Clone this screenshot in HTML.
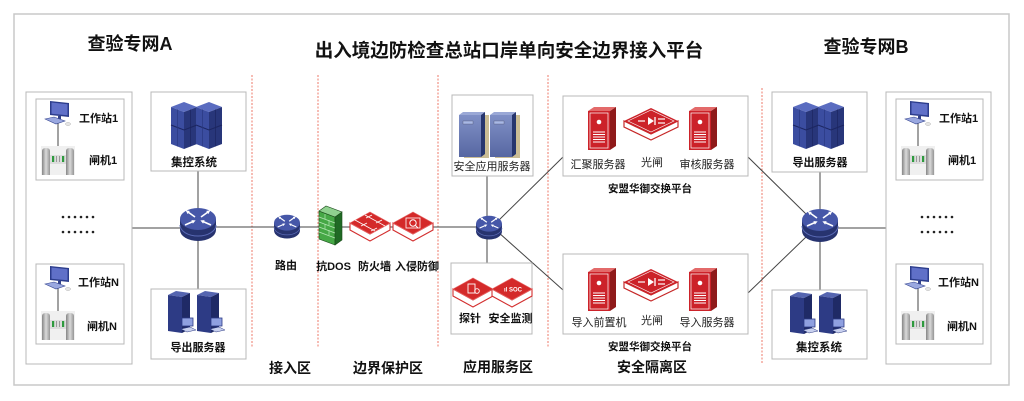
<!DOCTYPE html>
<html><head><meta charset="utf-8"><style>
html,body{margin:0;padding:0;background:#fff;width:1024px;height:401px;overflow:hidden}
svg{display:block}
</style></head><body>
<svg width="1024" height="401" viewBox="0 0 1024 401" xmlns="http://www.w3.org/2000/svg" xmlns:xlink="http://www.w3.org/1999/xlink" font-family="'Liberation Sans','Noto Sans CJK SC',sans-serif">
<defs>
<linearGradient id="post" x1="0" x2="1" y1="0" y2="0"><stop offset="0" stop-color="#858585"/><stop offset="0.5" stop-color="#dadada"/><stop offset="1" stop-color="#959595"/></linearGradient>
<linearGradient id="appf" x1="0" x2="0" y1="0" y2="1"><stop offset="0" stop-color="#8090c6"/><stop offset="1" stop-color="#5767a2"/></linearGradient>
<marker id="ah" viewBox="0 0 4 4" refX="1" refY="2" markerWidth="2.4" markerHeight="2.4" orient="auto"><path d="M0,0 L4,2 L0,4 z" fill="#fff"/></marker>
<g id="pc">
 <polygon points="5,1 24,3 24,17 5,15" fill="#2c3d8c"/>
 <polygon points="6.5,2.5 22.5,4.3 22.5,15.3 6.5,13.8" fill="#6070c8"/>
 <rect x="13" y="16" width="3" height="3" fill="#33428a"/>
 <polygon points="0,19 9,17 20,21 11,24" fill="#9aa8e0" stroke="#34448e" stroke-width="0.6"/>
 <ellipse cx="23" cy="24" rx="2.5" ry="1.4" fill="#e6e6e6" stroke="#999" stroke-width="0.4"/>
</g>
<g id="gate">
 <rect x="0" y="0" width="34" height="29" fill="#f0f0f0"/>
 <rect x="9" y="9" width="16" height="9" fill="#dcdcdc"/>
 <rect x="11" y="10" width="2.2" height="6" fill="#2e9a3e"/>
 <rect x="21" y="10" width="2.2" height="6" fill="#2e9a3e"/>
 <rect x="15" y="10" width="1" height="6" fill="#999"/><rect x="18" y="10" width="1" height="6" fill="#999"/>
 <path d="M1,29 V5 Q1,2 5,2 Q9,2 9,5 V29 Z" fill="url(#post)"/>
 <path d="M25,29 V5 Q25,2 29,2 Q33,2 33,5 V29 Z" fill="url(#post)"/>
</g>
<g id="col">
 <polygon points="0,5 13,0 26,5 13,10" fill="#5a6cc0"/>
 <polygon points="0,5 13,10 13,47 0,42" fill="#3b4da0"/>
 <polygon points="13,10 26,5 26,42 13,47" fill="#28367a"/>
 <polyline points="0,23 13,28 26,23" fill="none" stroke="#1c2660" stroke-width="1"/>
 <line x1="6.5" y1="7.5" x2="6.5" y2="44.5" stroke="#2a3880" stroke-width="0.7"/>
 <line x1="19.5" y1="7.5" x2="19.5" y2="44.5" stroke="#1c2660" stroke-width="0.7"/>
</g>
<g id="rack"><use xlink:href="#col"/><use xlink:href="#col" x="25"/></g>
<g id="tw">
 <polygon points="0,4 8,0 22,2 14,6" fill="#5565b0"/>
 <polygon points="0,4 14,6 14,42 0,40" fill="#2d3b85"/>
 <polygon points="14,6 22,2 22,38 14,42" fill="#1f2a66"/>
 <rect x="14" y="27" width="11" height="8" fill="#8fa0e0" stroke="#2d3b85" stroke-width="0.8"/>
 <polygon points="13,38 22,36 28,39 19,41" fill="#c8d0ee" stroke="#2d3b85" stroke-width="0.5"/>
</g>
<g id="towers"><use xlink:href="#tw"/><use xlink:href="#tw" x="29"/></g>
<g id="sw">
 <path d="M-18,-6 V5 A18,11 0 0 0 18,5 V-6 Z" fill="#27336f"/>
 <path d="M-18,0 A18,11 0 0 0 18,0" fill="none" stroke="#5a6ab5" stroke-width="1"/>
 <ellipse cx="0" cy="-6" rx="18" ry="11" fill="#4657a8"/>
 <g stroke="#fff" stroke-width="1.6">
  <line x1="-3" y1="-8" x2="-10" y2="-13" marker-end="url(#ah)"/>
  <line x1="3" y1="-8" x2="10" y2="-13" marker-end="url(#ah)"/>
  <line x1="-13" y1="0" x2="-5" y2="-3.5" marker-end="url(#ah)"/>
  <line x1="13" y1="0" x2="5" y2="-3.5" marker-end="url(#ah)"/>
 </g>
</g>
<g id="slab">
 <polygon points="-20,0 0,11 20,0 20,7 0,18 -20,7" fill="#fff" stroke="#d32f2f" stroke-width="1.1"/>
 <polygon points="-20,0 0,-11 20,0 0,11" fill="#d42a2a" stroke="#e86a6a" stroke-width="0.6"/>
</g>
<g id="rsv">
 <polygon points="0,4 6,0 28,0 22,4" fill="#e36a6a"/>
 <polygon points="22,4 28,0 28,39 22,43" fill="#8f1a1a"/>
 <rect x="0" y="4" width="22" height="39" fill="#cc2229"/>
 <rect x="2" y="6" width="18" height="35" fill="none" stroke="#fff" stroke-width="0.7"/>
 <circle cx="11" cy="15" r="2.3" fill="#fff"/>
 <g stroke="#fff" stroke-width="1"><line x1="5" y1="25" x2="17" y2="25"/><line x1="5" y1="27.5" x2="17" y2="27.5"/><line x1="5" y1="30" x2="17" y2="30"/><line x1="5" y1="32.5" x2="17" y2="32.5"/><line x1="5" y1="35" x2="17" y2="35"/></g>
</g>
<g id="og">
 <polygon points="-27,0 0,13 27,0 27,6 0,19 -27,6" fill="#fff" stroke="#c62828" stroke-width="1.2"/>
 <polygon points="-27,0 0,-13 27,0 0,13" fill="#cc2229"/>
 <polygon points="-23,0 0,-11 23,0 0,11" fill="none" stroke="#fff" stroke-width="0.6"/>
 <polygon points="-3,-4 -3,4 3,0" fill="#fff"/>
 <line x1="4" y1="-4" x2="4" y2="4" stroke="#fff" stroke-width="1.3"/>
 <g stroke="#fff" stroke-width="1.2"><line x1="-13" y1="0" x2="-6" y2="0"/><line x1="7" y1="-2" x2="14" y2="-2"/><line x1="7" y1="2" x2="14" y2="2"/></g>
</g>
<g id="app">
 <rect x="5" y="3" width="25" height="43" fill="#cbbd95"/>
 <polygon points="0,3 4,0 26,0 22,3" fill="#9aa8d6"/>
 <rect x="0" y="3" width="22" height="42" fill="url(#appf)"/>
 <polygon points="22,3 26,0 26,42 22,45" fill="#27366e"/>
 <rect x="4" y="9" width="10" height="3" fill="#a8b8e6" stroke="#445" stroke-width="0.3"/>
</g>
</defs>

<!-- outer frame -->
<rect x="14" y="14" width="995" height="371" fill="none" stroke="#c8c8c8" stroke-width="1.5"/>

<!-- titles -->
<text x="130" y="50" font-size="18" font-weight="bold" text-anchor="middle" fill="#111">查验专网A</text>
<text x="509" y="57" font-size="18.5" font-weight="bold" text-anchor="middle" fill="#111">出入境边防检查总站口岸单向安全边界接入平台</text>
<text x="866" y="53" font-size="18" font-weight="bold" text-anchor="middle" fill="#111">查验专网B</text>

<!-- dashed zone lines -->
<g stroke="#ee7a6a" stroke-width="1" stroke-dasharray="2 1.5">
 <line x1="252" y1="75" x2="252" y2="348"/>
 <line x1="318" y1="75" x2="318" y2="348"/>
 <line x1="438" y1="75" x2="438" y2="348"/>
 <line x1="548" y1="75" x2="548" y2="348"/>
 <line x1="762" y1="88" x2="762" y2="363"/>
</g>

<!-- connectors -->
<g stroke="#444" stroke-width="1" fill="none">
 <line x1="132" y1="228" x2="181" y2="228"/>
 <line x1="215" y1="227" x2="320" y2="227"/>
 <line x1="340" y1="227" x2="478" y2="227"/>
 <line x1="198" y1="171" x2="198" y2="210"/>
 <line x1="198" y1="240" x2="198" y2="289"/>
 <line x1="487" y1="176" x2="487" y2="220"/>
 <line x1="487" y1="234" x2="487" y2="263"/>
 <line x1="498" y1="221" x2="563" y2="157"/>
 <line x1="498" y1="232" x2="563" y2="290"/>
 <line x1="748" y1="157" x2="806" y2="214"/>
 <line x1="748" y1="293" x2="806" y2="237"/>
 <line x1="820" y1="172" x2="820" y2="210"/>
 <line x1="820" y1="241" x2="820" y2="290"/>
 <line x1="837" y1="228" x2="886" y2="228"/>
 <line x1="615" y1="128" x2="689" y2="128"/>
 <line x1="615" y1="289" x2="689" y2="289"/>
</g>

<!-- Group A -->
<rect x="26" y="92" width="106" height="272" fill="#fff" stroke="#b8b8b8"/>
<rect x="36" y="99" width="88" height="81" fill="#fff" stroke="#b8b8b8"/>
<rect x="36" y="264" width="88" height="80" fill="#fff" stroke="#b8b8b8"/>
<line x1="58" y1="123" x2="58" y2="147" stroke="#444"/>
<use xlink:href="#pc" transform="translate(45,100)"/>
<use xlink:href="#gate" transform="translate(41,146)"/>
<line x1="58" y1="288" x2="58" y2="312" stroke="#444"/>
<use xlink:href="#pc" transform="translate(45,265)"/>
<use xlink:href="#gate" transform="translate(41,311)"/>
<g font-size="11" font-weight="bold" fill="#111">
 <text x="79" y="122">工作站1</text>
 <text x="89" y="164">闸机1</text>
 <text x="78" y="286">工作站N</text>
 <text x="87" y="330">闸机N</text>
</g>
<g fill="#222">
 <circle cx="63" cy="217" r="1.3"/><circle cx="69" cy="217" r="1.3"/><circle cx="75" cy="217" r="1.3"/><circle cx="81" cy="217" r="1.3"/><circle cx="87" cy="217" r="1.3"/><circle cx="93" cy="217" r="1.3"/>
 <circle cx="63" cy="232" r="1.3"/><circle cx="69" cy="232" r="1.3"/><circle cx="75" cy="232" r="1.3"/><circle cx="81" cy="232" r="1.3"/><circle cx="87" cy="232" r="1.3"/><circle cx="93" cy="232" r="1.3"/>
</g>

<!-- A: 集控系统 / 导出服务器 -->
<rect x="151" y="92" width="95" height="79" fill="#fff" stroke="#b8b8b8"/>
<use xlink:href="#rack" transform="translate(171,102)"/>
<text x="194" y="166" font-size="11.5" font-weight="bold" text-anchor="middle" fill="#111">集控系统</text>
<rect x="151" y="289" width="95" height="70" fill="#fff" stroke="#b8b8b8"/>
<use xlink:href="#towers" transform="translate(168,291)"/>
<text x="198" y="351" font-size="11" font-weight="bold" text-anchor="middle" fill="#111">导出服务器</text>
<use xlink:href="#sw" transform="translate(198,225)"/>

<!-- 接入区 router -->
<use xlink:href="#sw" transform="translate(287,227) scale(0.72)"/>
<text x="286" y="269" font-size="11" font-weight="bold" text-anchor="middle" fill="#111">路由</text>

<!-- 边界保护 -->
<polygon points="319,211 335,217 335,245 319,239" fill="#46a846" stroke="#1a4a1a" stroke-width="0.6"/>
<polygon points="335,217 342,212 342,240 335,245" fill="#1f6a24" stroke="#1a4a1a" stroke-width="0.6"/>
<polygon points="319,211 326,206 342,212 335,217" fill="#8fd18f" stroke="#1a4a1a" stroke-width="0.6"/>
<g stroke="#b5e6b5" stroke-width="0.7">
 <line x1="319" y1="217" x2="335" y2="223"/><line x1="319" y1="222" x2="335" y2="228"/><line x1="319" y1="227" x2="335" y2="233"/><line x1="319" y1="232" x2="335" y2="238"/>
 <line x1="325" y1="214" x2="325" y2="219"/><line x1="329" y1="220" x2="329" y2="225"/><line x1="325" y1="224" x2="325" y2="229"/><line x1="329" y1="230" x2="329" y2="235"/>
</g>
<use xlink:href="#slab" transform="translate(370,223)"/>
<g stroke="#fff" stroke-width="0.8">
 <line x1="355" y1="220" x2="375" y2="231"/><line x1="365" y1="215" x2="385" y2="226"/>
 <line x1="361" y1="226" x2="367" y2="223"/><line x1="371" y1="231" x2="377" y2="228"/><line x1="366" y1="218" x2="372" y2="215"/><line x1="376" y1="223" x2="382" y2="220"/>
</g>
<use xlink:href="#slab" transform="translate(413,223)"/>
<rect x="406" y="218" width="14" height="10" fill="none" stroke="#fff" stroke-width="0.8"/>
<circle cx="413" cy="223" r="3.2" fill="none" stroke="#fff" stroke-width="1"/>
<line x1="415.5" y1="225.5" x2="418" y2="228" stroke="#fff" stroke-width="1"/>
<g font-size="11" font-weight="bold" fill="#111" text-anchor="middle">
 <text x="333.5" y="270">抗DOS</text>
 <text x="374.5" y="270">防火墙</text>
 <text x="417" y="270">入侵防御</text>
</g>

<!-- 应用服务区 -->
<rect x="452" y="95" width="81" height="81" fill="#fff" stroke="#b8b8b8"/>
<use xlink:href="#app" transform="translate(459,112)"/>
<use xlink:href="#app" transform="translate(490,112)"/>
<text x="492" y="170" font-size="11" text-anchor="middle" fill="#222">安全应用服务器</text>
<use xlink:href="#sw" transform="translate(489,228) scale(0.72)"/>
<rect x="451" y="263" width="81" height="71" fill="#fff" stroke="#b8b8b8"/>
<use xlink:href="#slab" transform="translate(473,289)"/>
<use xlink:href="#slab" transform="translate(512,289)"/>
<rect x="468" y="284" width="7" height="9" fill="none" stroke="#fff" stroke-width="0.9"/>
<circle cx="477" cy="291" r="2.3" fill="none" stroke="#fff" stroke-width="0.9"/>
<text x="513" y="291.5" font-size="6" font-weight="bold" fill="#fff" text-anchor="middle">ıl SOC</text>
<g font-size="11" font-weight="bold" fill="#111" text-anchor="middle">
 <text x="470" y="322">探针</text>
 <text x="510.5" y="322">安全监测</text>
</g>

<!-- 安全隔离区 platforms -->
<rect x="563" y="96" width="185" height="80" fill="#fff" stroke="#b8b8b8"/>
<use xlink:href="#rsv" transform="translate(588,107)"/>
<use xlink:href="#og" transform="translate(651,121)"/>
<use xlink:href="#rsv" transform="translate(689,107)"/>
<g font-size="11" fill="#222" text-anchor="middle">
 <text x="598" y="168">汇聚服务器</text>
 <text x="652" y="166">光闸</text>
 <text x="707" y="168">审核服务器</text>
</g>
<text x="650" y="192" font-size="10.5" font-weight="bold" text-anchor="middle" fill="#111">安盟华御交换平台</text>
<rect x="563" y="254" width="185" height="80" fill="#fff" stroke="#b8b8b8"/>
<use xlink:href="#rsv" transform="translate(588,268)"/>
<use xlink:href="#og" transform="translate(651,282)"/>
<use xlink:href="#rsv" transform="translate(689,268)"/>
<g font-size="11" fill="#222" text-anchor="middle">
 <text x="599" y="326">导入前置机</text>
 <text x="652" y="324">光闸</text>
 <text x="707" y="326">导入服务器</text>
</g>
<text x="650" y="350" font-size="10.5" font-weight="bold" text-anchor="middle" fill="#111">安盟华御交换平台</text>

<!-- zone labels -->
<g font-size="14" font-weight="bold" fill="#111" text-anchor="middle">
 <text x="290" y="373">接入区</text>
 <text x="388" y="373">边界保护区</text>
 <text x="498" y="372">应用服务区</text>
 <text x="652" y="372">安全隔离区</text>
</g>

<!-- B side: 导出服务器 / 集控系统 -->
<rect x="772" y="92" width="95" height="80" fill="#fff" stroke="#b8b8b8"/>
<use xlink:href="#rack" transform="translate(793,102)"/>
<text x="820" y="166" font-size="11" font-weight="bold" text-anchor="middle" fill="#111">导出服务器</text>
<rect x="772" y="290" width="95" height="69" fill="#fff" stroke="#b8b8b8"/>
<use xlink:href="#towers" transform="translate(790,292)"/>
<text x="819" y="351" font-size="11.5" font-weight="bold" text-anchor="middle" fill="#111">集控系统</text>
<use xlink:href="#sw" transform="translate(820,226)"/>

<!-- Group B -->
<g transform="translate(860,0)">
<rect x="26" y="92" width="105" height="272" fill="#fff" stroke="#b8b8b8"/>
<rect x="36" y="99" width="87" height="81" fill="#fff" stroke="#b8b8b8"/>
<rect x="36" y="264" width="87" height="80" fill="#fff" stroke="#b8b8b8"/>
<line x1="58" y1="123" x2="58" y2="147" stroke="#444"/>
<use xlink:href="#pc" transform="translate(45,100)"/>
<use xlink:href="#gate" transform="translate(41,146)"/>
<line x1="58" y1="288" x2="58" y2="312" stroke="#444"/>
<use xlink:href="#pc" transform="translate(45,265)"/>
<use xlink:href="#gate" transform="translate(41,311)"/>
<g font-size="11" font-weight="bold" fill="#111">
 <text x="79" y="122">工作站1</text>
 <text x="88" y="164">闸机1</text>
 <text x="78" y="286">工作站N</text>
 <text x="87" y="330">闸机N</text>
</g>
<g fill="#222">
 <circle cx="62" cy="217" r="1.3"/><circle cx="68" cy="217" r="1.3"/><circle cx="74" cy="217" r="1.3"/><circle cx="80" cy="217" r="1.3"/><circle cx="86" cy="217" r="1.3"/><circle cx="92" cy="217" r="1.3"/>
 <circle cx="62" cy="232" r="1.3"/><circle cx="68" cy="232" r="1.3"/><circle cx="74" cy="232" r="1.3"/><circle cx="80" cy="232" r="1.3"/><circle cx="86" cy="232" r="1.3"/><circle cx="92" cy="232" r="1.3"/>
</g>
</g>
</svg>
</body></html>
